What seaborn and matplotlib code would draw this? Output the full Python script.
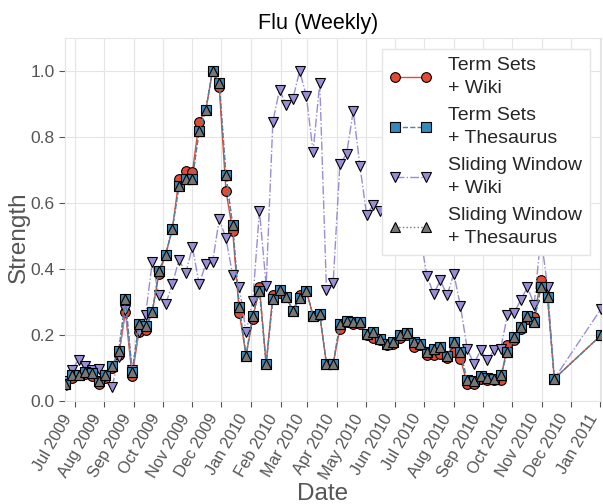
import pandas as pd
import seaborn as sns
import matplotlib.pyplot as plt
import matplotlib.dates as mdates


# weekly dates (Sundays), weeks 74-79 are missing in the source data
week_idx = list(range(0, 74)) + [80]
dates = pd.to_datetime('2009-06-21') + pd.to_timedelta([7 * i for i in week_idx], unit='D')

ts_wiki = [0.05, 0.07, 0.078, 0.082, 0.075, 0.052, 0.07, 0.10, 0.14, 0.27,
           0.075, 0.21, 0.215, 0.27, 0.385, 0.443, 0.521, 0.674, 0.698, 0.695,
           0.846, 0.882, 1.0, 0.95, 0.637, 0.516, 0.267, 0.138, 0.249, 0.347,
           0.113, 0.322, 0.328, 0.315, 0.274, 0.322, 0.335, 0.259, 0.26, 0.113,
           0.113, 0.219, 0.24, 0.235, 0.235, 0.20, 0.19, 0.185, 0.17, 0.173,
           0.19, 0.20, 0.163, 0.17, 0.14, 0.14, 0.143, 0.13, 0.148, 0.128,
           0.053, 0.053, 0.068, 0.063, 0.063, 0.065, 0.169, 0.186, 0.22, 0.25,
           0.255, 0.368, 0.315, 0.068, 0.20]

ts_thes = [0.052, 0.078, 0.08, 0.088, 0.085, 0.06, 0.078, 0.106, 0.151, 0.31,
           0.088, 0.234, 0.227, 0.27, 0.395, 0.443, 0.521, 0.652, 0.672, 0.674,
           0.819, 0.882, 1.0, 0.963, 0.684, 0.533, 0.284, 0.138, 0.259, 0.335,
           0.113, 0.309, 0.338, 0.315, 0.274, 0.311, 0.335, 0.259, 0.264, 0.113,
           0.113, 0.234, 0.244, 0.239, 0.239, 0.204, 0.209, 0.189, 0.173, 0.18,
           0.20, 0.207, 0.178, 0.174, 0.148, 0.159, 0.164, 0.138, 0.179, 0.148,
           0.063, 0.061, 0.075, 0.071, 0.068, 0.078, 0.148, 0.194, 0.226, 0.257,
           0.241, 0.345, 0.315, 0.068, 0.20]

sw_wiki = [0.06, 0.093, 0.126, 0.106, 0.093, 0.098, 0.075, 0.042, 0.133, 0.277,
           0.093, 0.21, 0.26, 0.42, 0.32, 0.294, 0.355, 0.428, 0.388, 0.466,
           0.355, 0.415, 0.42, 0.551, 0.493, 0.382, 0.345, 0.21, 0.304, 0.577,
           0.35, 0.846, 0.943, 0.896, 0.916, 1.0, 0.924, 0.755, 0.963, 0.337,
           0.357, 0.718, 0.748, 0.879, 0.711, 0.564, 0.594, 0.577, 0.60, 0.55,
           0.62, 0.58, 0.52, 0.50, 0.378, 0.325, 0.366, 0.32, 0.386, 0.288,
           0.159, 0.113, 0.154, 0.125, 0.154, 0.159, 0.26, 0.267, 0.307, 0.345,
           0.292, 0.50, 0.345, 0.068, 0.28]

sw_thes = [0.052, 0.078, 0.08, 0.088, 0.085, 0.06, 0.078, 0.106, 0.151, 0.31,
           0.088, 0.234, 0.227, 0.27, 0.395, 0.443, 0.521, 0.652, 0.672, 0.674,
           0.819, 0.882, 1.0, 0.963, 0.684, 0.533, 0.284, 0.138, 0.259, 0.335,
           0.113, 0.309, 0.338, 0.315, 0.274, 0.311, 0.335, 0.259, 0.264, 0.113,
           0.113, 0.234, 0.244, 0.239, 0.239, 0.204, 0.209, 0.189, 0.173, 0.18,
           0.20, 0.207, 0.178, 0.174, 0.148, 0.159, 0.164, 0.138, 0.179, 0.148,
           0.063, 0.061, 0.075, 0.071, 0.068, 0.078, 0.148, 0.194, 0.226, 0.257,
           0.241, 0.345, 0.315, 0.068, 0.20]

series = [
    ('Term Sets\n+ Wiki', ts_wiki, '#E24A33', 'o', '-', 2),
    ('Term Sets\n+ Thesaurus', ts_thes, '#348ABD', 's', '--', 4),
    ('Sliding Window\n+ Wiki', sw_wiki, '#988ED5', 'v', '-.', 3),
    ('Sliding Window\n+ Thesaurus', sw_thes, '#777777', '^', ':', 5),
]

sns.set_style('whitegrid', {'grid.color': '#E5E5E5', 'axes.edgecolor': '#E5E5E5',
                            'xtick.bottom': True, 'ytick.left': True})
plt.rcParams['font.family'] = ['Liberation Sans', 'DejaVu Sans']

fig, ax = plt.subplots(figsize=(6.03, 5.04), dpi=100)
fig.subplots_adjust(left=0.108, right=0.997, top=0.925, bottom=0.204)

for name, vals, col, mk, ls, z in series:
    df = pd.DataFrame({'Date': dates, 'Strength': vals})
    sns.lineplot(data=df, x='Date', y='Strength', color=col, marker=mk, linestyle=ls,
                 markersize=7, markeredgecolor='black', markeredgewidth=0.8,
                 linewidth=1, label=name, zorder=z, ax=ax)

ax.set_ylim(0, 1.1)
ax.set_xlim(dates[0], dates[-1])
ax.set_yticks([0.0, 0.2, 0.4, 0.6, 0.8, 1.0])
ax.xaxis.set_major_locator(mdates.MonthLocator())
ax.xaxis.set_major_formatter(mdates.DateFormatter('%b %Y'))
ax.tick_params(axis='y', colors='#555555', labelsize=12.5, length=4, width=0.8)
ax.tick_params(axis='x', colors='#555555', labelsize=11.8, length=4, width=0.8)
plt.setp(ax.get_xticklabels(), rotation=60, ha='right')

ax.set_title('Flu (Weekly)', fontsize=15.5, x=0.472, color='black')
ax.set_xlabel('Date', fontsize=17.5, color='#555555')
ax.set_ylabel('Strength', fontsize=17.5, color='#555555')
ax.xaxis.set_label_coords(0.481, -0.226)
ax.yaxis.set_label_coords(-0.066, 0.45)

leg = ax.legend(loc='upper right', fontsize=14, numpoints=2, fancybox=False,
                framealpha=1, edgecolor='#E5E5E5', handlelength=2.2,
                labelspacing=0.52, borderaxespad=0.6)
for t in leg.get_texts():
    t.set_linespacing(1.45)

fig.savefig('out.png')
